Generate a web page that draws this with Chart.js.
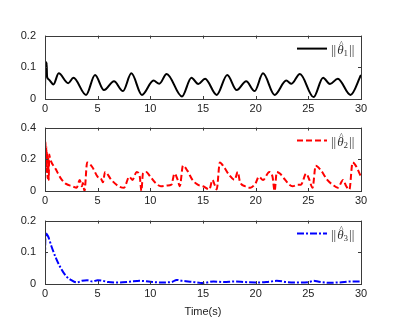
<!DOCTYPE html>
<html>
<head>
<meta charset="utf-8">
<script src="https://cdn.jsdelivr.net/npm/chart.js@4"></script>
<style>
html,body{margin:0;padding:0;background:#fff;width:397px;height:331px;overflow:hidden;}
canvas{position:absolute;left:0;}
</style>
</head>
<body>
<canvas id="c1" width="397" height="100" style="top:20px"></canvas>
<canvas id="c2" width="397" height="100" style="top:112px"></canvas>
<canvas id="c3" width="397" height="114" style="top:205px"></canvas>
<script>
// ---- data ----
const xTicks = [0, 5, 10, 15, 20, 25, 30];
const t1 = [0, 0.05, 0.1, 0.15, 0.2, 0.35, 0.8, 1.3, 2.2, 2.7, 3.9, 4.75, 5.6, 6.55, 7.4, 8.2, 9.2, 10.3, 10.85, 11.55, 13.0, 13.9, 14.55, 15.2, 16.3, 17.3, 18.2, 19.1, 19.9, 20.7, 21.8, 22.9, 23.4, 24.2, 25.5, 26.4, 27.05, 27.8, 29.0, 30];
const v1 = [0.03, 0.12, 0.075, 0.115, 0.07, 0.062, 0.046, 0.081, 0.05, 0.067, 0.013, 0.076, 0.028, 0.056, 0.025, 0.081, 0.013, 0.058, 0.048, 0.079, 0.008, 0.067, 0.047, 0.064, 0.013, 0.076, 0.028, 0.056, 0.025, 0.081, 0.013, 0.058, 0.048, 0.079, 0.006, 0.067, 0.047, 0.064, 0.013, 0.076];

const t2 = [0, 0.04, 0.08, 0.12, 0.16, 0.2, 0.25, 0.3, 0.35, 0.4, 0.5, 1.0, 1.5, 2.0, 2.6, 3.0, 3.3, 3.5, 3.6, 3.75, 4.0, 4.5, 5.0, 5.3, 5.5, 5.7, 6.3, 7.0, 7.5, 8.0, 8.3, 8.7, 9.0, 9.15, 9.3, 9.6, 10.0, 10.5, 11.0, 11.6, 12.0, 12.3, 12.6, 12.8, 13.1, 13.5, 14.0, 14.5, 15.0, 15.6, 15.9, 16.1, 16.3, 16.6, 17.0, 17.5, 18.0, 18.3, 18.5, 19.0, 19.5, 20.0, 20.3, 20.7, 21.3, 21.6, 21.8, 22.0, 22.3, 22.8, 23.2, 23.5, 24.0, 24.3, 24.8, 25.1, 25.4, 25.7, 26.2, 26.8, 27.3, 27.8, 28.3, 28.6, 28.9, 29.2, 29.5, 30];
const v2 = [0.18, 0.31, 0.2, 0.28, 0.12, 0.24, 0.08, 0.22, 0.07, 0.23, 0.2, 0.14, 0.08, 0.045, 0.03, 0.02, 0.07, 0.03, 0.05, 0.0, 0.18, 0.15, 0.09, 0.08, 0.055, 0.12, 0.07, 0.03, 0.02, 0.09, 0.07, 0.12, 0.09, 0.0, 0.11, 0.12, 0.09, 0.05, 0.03, 0.035, 0.04, 0.11, 0.07, 0.03, 0.16, 0.13, 0.07, 0.04, 0.03, 0.01, 0.07, 0.04, 0.01, 0.18, 0.15, 0.1, 0.07, 0.12, 0.06, 0.03, 0.02, 0.05, 0.09, 0.07, 0.12, 0.09, 0.0, 0.12, 0.11, 0.07, 0.04, 0.03, 0.04, 0.04, 0.11, 0.07, 0.02, 0.16, 0.13, 0.07, 0.04, 0.02, 0.07, 0.03, 0.01, 0.18, 0.16, 0.09];

const t3 = [0, 0.05, 0.3, 0.6, 1.0, 1.5, 2.0, 2.5, 3.0, 3.5, 4.0, 4.5, 5.0, 5.5, 6.0, 7.0, 8.0, 9.0, 10.0, 11.0, 12.0, 12.5, 13.0, 14.0, 15.0, 16.0, 17.0, 18.0, 19.0, 20.0, 21.0, 22.0, 23.0, 24.0, 25.0, 25.5, 26.0, 27.0, 28.0, 29.0, 30.0];
const v3 = [0.08, 0.16, 0.15, 0.12, 0.085, 0.05, 0.025, 0.012, 0.005, 0.01, 0.012, 0.008, 0.012, 0.01, 0.006, 0.005, 0.007, 0.01, 0.007, 0.005, 0.006, 0.013, 0.01, 0.007, 0.003, 0.008, 0.006, 0.008, 0.006, 0.005, 0.006, 0.01, 0.006, 0.005, 0.006, 0.01, 0.007, 0.004, 0.005, 0.008, 0.008];

const yMax = [0.2, 0.4, 0.2];
const yStep = [0.1, 0.2, 0.1];
const subs = ['1', '2', '3'];
const colors = ['#000000', '#ff0000', '#0000ff'];
const dashes = [[], [6, 3], [7, 2, 2, 2]];
const xTitle = 'Time(s)';

const AXIS = '#3a3a3a';
const FONT = "'Liberation Sans', Arial, sans-serif";

const boxTicks = {
  id: 'boxTicks',
  afterDatasetsDraw(chart) {
    const ctx = chart.ctx, a = chart.chartArea;
    const xs = chart.scales.x, ys = chart.scales.y;
    ctx.save();
    ctx.strokeStyle = AXIS;
    ctx.lineWidth = 1;
    ctx.setLineDash([]);
    ctx.strokeRect(Math.round(a.left) + 0.5, Math.round(a.top) + 0.5, Math.round(a.right - a.left), Math.round(a.bottom - a.top));
    const L = 3;
    ctx.beginPath();
    xs.ticks.forEach(tk => {
      const px = Math.round(xs.getPixelForValue(tk.value)) + 0.5;
      ctx.moveTo(px, a.bottom); ctx.lineTo(px, a.bottom - L);
      ctx.moveTo(px, a.top); ctx.lineTo(px, a.top + L);
    });
    ys.ticks.forEach(tk => {
      const py = Math.round(ys.getPixelForValue(tk.value)) + 0.5;
      ctx.moveTo(a.left, py); ctx.lineTo(a.left + L, py);
      ctx.moveTo(a.right, py); ctx.lineTo(a.right - L, py);
    });
    ctx.stroke();
    // inner legend
    const o = chart.options.plugins.innerLegend;
    const ly = a.top + 13;
    ctx.strokeStyle = o.color;
    ctx.lineWidth = 2;
    ctx.setLineDash(o.dash);
    ctx.beginPath();
    ctx.moveTo(a.right - 64, ly);
    ctx.lineTo(a.right - 34, ly);
    ctx.stroke();
    ctx.setLineDash([]);
    ctx.fillStyle = '#333';
    ctx.textBaseline = 'alphabetic';
    ctx.textAlign = 'left';
    let x = a.right - 30;
    const base = ly + 5;
    ctx.font = "13px 'Liberation Serif', serif";
    ctx.fillText('||', x, base); x += ctx.measureText('||').width + 1;
    ctx.font = "italic 13px 'Liberation Serif', serif";
    ctx.fillText('\u03b8', x, base);
    const tw = ctx.measureText('\u03b8').width;
    ctx.font = "9px 'Liberation Serif', serif";
    ctx.textAlign = 'center';
    ctx.fillText('^', x + tw / 2 + 1, base - 7);
    ctx.textAlign = 'left';
    x += tw;
    ctx.font = "9px 'Liberation Serif', serif";
    ctx.fillText(o.sub, x, base + 2); x += ctx.measureText(o.sub).width + 1;
    ctx.font = "13px 'Liberation Serif', serif";
    ctx.fillText('||', x, base);
    ctx.restore();
  }
};

function makeChart(id, ts, vs, i, xAxisH) {
  const pts = ts.map((t, k) => ({ x: t, y: vs[k] }));
  return new Chart(document.getElementById(id), {
    type: 'line',
    data: { datasets: [{
      data: pts,
      borderColor: colors[i],
      borderWidth: 2,
      borderDash: dashes[i],
      pointRadius: 0,
      fill: false,
      cubicInterpolationMode: 'monotone',
      tension: 0.4
    }]},
    plugins: [boxTicks],
    options: {
      responsive: false,
      animation: false,
      devicePixelRatio: 1,
      layout: { padding: { top: 13, right: 36, left: 0, bottom: 0 } },
      plugins: {
        legend: { display: false },
        tooltip: { enabled: false },
        innerLegend: { color: colors[i], dash: dashes[i], sub: subs[i] }
      },
      scales: {
        x: {
          type: 'linear', min: 0, max: 30,
          afterBuildTicks(s) { s.ticks = xTicks.map(v => ({ value: v })); },
          afterFit(s) { s.height = xAxisH; },
          grid: { display: false, drawTicks: false },
          border: { display: false },
          ticks: { padding: 3, color: '#222', font: { family: FONT, size: 11 }, maxRotation: 0, autoSkip: false,
            callback: v => String(v) },
          title: i === 2 ? { display: true, text: xTitle, color: '#222', font: { family: FONT, size: 11 }, padding: { top: 2, bottom: 0 } } : { display: false }
        },
        y: {
          min: 0, max: yMax[i],
          afterBuildTicks(s) { const arr = []; for (let k = 0; k <= 2; k++) arr.push({ value: +(k * yStep[i]).toFixed(1) }); s.ticks = arr; },
          afterFit(s) { s.width = 45; },
          grid: { display: false, drawTicks: false },
          border: { display: false },
          ticks: { padding: 9, color: '#222', font: { family: FONT, size: 11 },
            callback: v => v === 0 ? '0' : v.toFixed(1) }
        }
      }
    }
  });
}

makeChart('c1', t1, v1, 0, 21);
makeChart('c2', t2, v2, 1, 21);
makeChart('c3', t3, v3, 2, 35);
</script>
</body>
</html>
